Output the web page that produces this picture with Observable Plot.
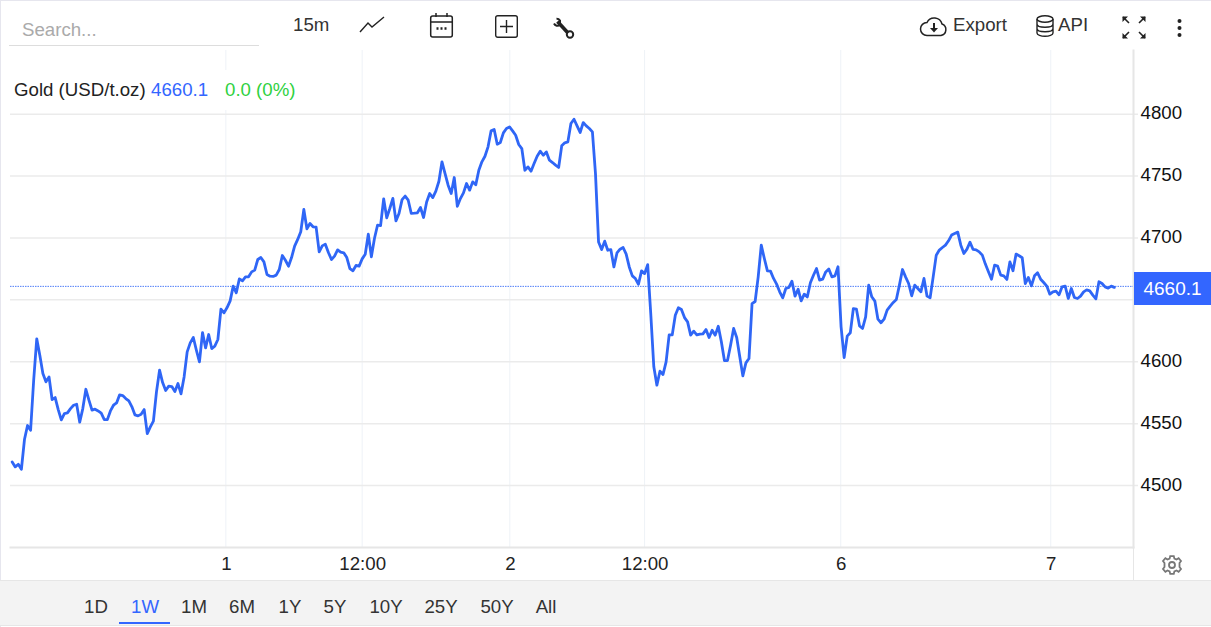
<!DOCTYPE html>
<html>
<head>
<meta charset="utf-8">
<script src="https://cdn.jsdelivr.net/npm/d3@7"></script>
<script src="https://cdn.jsdelivr.net/npm/@observablehq/plot@0.6"></script>
<style>
  html,body{margin:0;padding:0;background:#fff;}
  body{width:1211px;height:627px;overflow:hidden;position:relative;font-family:"Liberation Sans",Arial,sans-serif;font-size:18.67px;color:#333;}
  .t{position:absolute;line-height:22px;white-space:nowrap;}
  .c{transform:translateX(-50%);}
  svg.i{position:absolute;overflow:visible;fill:none;stroke:#222;}
  #bar{position:absolute;left:0;top:580px;width:1211px;height:44px;background:#f3f3f3;border-top:1px solid #e6e6e6;border-bottom:1px solid #e6e6e6;}
  #frameT{position:absolute;left:0;top:0;width:1211px;height:1px;background:#e6e6ee;}
  #frameL{position:absolute;left:0;top:0;width:1px;height:627px;background:#e6e6ee;}
  #chart{position:absolute;left:0;top:50px;}
  #legend{position:absolute;left:10px;top:70px;width:292px;height:40px;background:#fff;}
  #badge{position:absolute;left:1134px;width:77px;height:33px;line-height:33px;background:#3366ff;color:#fff;text-align:center;font-size:19px;}
</style>
</head>
<body>
<div id="chart"></div>
<div id="frameT"></div><div id="frameL"></div>
<div id="bar"></div>

<div class="t" style="left:22px;top:19px;color:#aaa">Search...</div>
<div style="position:absolute;left:9px;top:45px;width:250px;height:1px;background:#ddd"></div>
<div class="t" style="left:293px;top:14px;">15m</div>
<svg class="i" style="left:360px;top:16px" width="24" height="18" stroke-width="1.4"><path d="M0 16L8 7L12 11L24 1"/></svg>
<svg class="i" style="left:430px;top:13px" width="23" height="25" stroke-width="1.5"><rect x="0.7" y="3" width="21.6" height="21" rx="2"/><path d="M1 9H22M6 0V4M17 0V4"/><path d="M6.5 15.5H8.5M10.5 15.5H12.5M14.5 15.5H16.5" stroke-width="2.4"/></svg>
<svg class="i" style="left:495px;top:15px" width="23" height="23" stroke-width="1.4"><rect x="0.7" y="0.7" width="21.6" height="21.6" rx="2"/><path d="M11.5 5V18M5 11.5H18"/></svg>
<svg class="i" style="left:553px;top:18px" width="22" height="22"><path d="M4.5 3.5L15 15" stroke-width="3.6"/><path d="M1 5.5A4 4 0 0 0 7 7L7 2.5A4 4 0 0 0 3.5 0.8" stroke-width="2"/><circle cx="17" cy="16.5" r="3.2" stroke-width="2"/></svg>

<svg class="i" style="left:920px;top:17px" width="28" height="20" stroke-width="1.5"><path d="M7 18.5H21A6 6 0 0 0 22 7A8 8 0 0 0 7 5.5A6.5 6.5 0 0 0 7 18.5Z"/><path d="M14 6V13" stroke-width="2"/><path d="M10 11L14 15.5L18 11Z" style="fill:#222;stroke:none"/></svg>
<div class="t" style="left:953px;top:14px;">Export</div>
<svg class="i" style="left:1036px;top:15px" width="18" height="22" stroke-width="1.4"><ellipse cx="9" cy="4" rx="8" ry="3.2"/><path d="M1 4V18C1 20 5 21.3 9 21.3S17 20 17 18V4M1 9C1 11 5 12.2 9 12.2S17 11 17 9M1 13.5C1 15.5 5 16.7 9 16.7S17 15.5 17 13.5"/></svg>
<div class="t" style="left:1058px;top:14px;">API</div>
<svg class="i" style="left:1122px;top:16px" width="24" height="23" stroke-width="1.6"><path d="M1 1L7 7M23 1L17 7M1 22L7 16M23 22L17 16"/><path d="M0.5 0.5H6L0.5 6ZM23.5 0.5H18L23.5 6ZM0.5 22.5H6L0.5 17ZM23.5 22.5H18L23.5 17Z" style="fill:#222;stroke:none"/></svg>
<svg class="i" style="left:1176px;top:18px" width="8" height="20"><circle cx="3.5" cy="3" r="2" style="fill:#222;stroke:none"/><circle cx="3.5" cy="10" r="2" style="fill:#222;stroke:none"/><circle cx="3.5" cy="17" r="2" style="fill:#222;stroke:none"/></svg>

<div id="legend"></div>
<div class="t" style="left:14px;top:79px;color:#222">Gold (USD/t.oz)</div>
<div class="t" style="left:151px;top:79px;color:#3366ff">4660.1</div>
<div class="t" style="left:225px;top:79px;color:#2fd13f">0.0 (0%)</div>
<div id="badge">4660.1</div>

<svg class="i" style="left:1162px;top:555px;stroke:#777" width="20" height="20" stroke-width="1.8"><circle cx="10" cy="10" r="3"/><path d="M8.2 1.2H11.8L12.4 3.6L14.5 4.5L16.6 3.2L19 6L17.5 8L17.5 12L19 14L16.6 16.8L14.5 15.5L12.4 16.4L11.8 18.8H8.2L7.6 16.4L5.5 15.5L3.4 16.8L1 14L2.5 12L2.5 8L1 6L3.4 3.2L5.5 4.5L7.6 3.6Z"/></svg>
<div id="ranges"></div>

<script>
// Gold price (USD/t.oz), one reading per 15-minute sample, in order
const prices = [
4519.1,4515.1,4517.2,4513.2,4537.2,4548.5,4544.7,4585.1,4618.5,4605.3,
4590.5,4583.8,4587.8,4569.5,4571.1,4561.4,4553.1,4558.2,4558.7,4562.2,
4564.9,4565.7,4551.2,4562.2,4577.8,4569.0,4560.9,4561.7,4560.3,4558.5,
4553.3,4553.3,4560.3,4564.9,4566.8,4573.3,4572.7,4570.3,4568.4,4563.6,
4557.1,4556.3,4557.6,4561.4,4542.0,4547.4,4552.0,4575.7,4593.2,4583.2,
4576.8,4580.3,4580.0,4575.9,4582.4,4574.1,4587.8,4608.0,4615.3,4619.6,
4609.3,4599.9,4623.6,4611.2,4622.0,4610.7,4612.6,4618.0,4642.5,4639.5,
4643.8,4649.2,4661.1,4655.7,4667.0,4665.4,4668.6,4668.6,4672.6,4674.0,
4682.6,4684.2,4680.7,4670.5,4669.1,4668.9,4670.0,4674.5,4685.8,4682.0,
4677.2,4684.2,4693.4,4698.8,4705.0,4723.0,4707.4,4711.7,4709.0,4708.7,
4688.8,4693.6,4695.0,4688.3,4682.6,4685.3,4690.4,4688.5,4688.0,4684.2,
4675.3,4673.5,4677.8,4677.2,4683.1,4686.9,4703.0,4684.8,4699.6,4710.3,
4710.0,4731.6,4716.3,4723.8,4731.9,4713.8,4719.8,4731.0,4733.8,4730.5,
4719.8,4720.0,4720.3,4724.6,4716.5,4729.1,4735.9,4732.6,4737.8,4745.8,
4761.5,4752.0,4742.6,4735.9,4748.8,4725.6,4731.8,4736.4,4744.0,4738.6,
4745.3,4742.9,4754.7,4761.5,4766.0,4773.6,4786.5,4787.6,4775.7,4777.1,
4784.9,4788.4,4789.7,4786.5,4783.0,4775.5,4772.2,4754.7,4757.4,4753.9,
4760.1,4766.0,4770.1,4766.8,4769.5,4762.8,4760.9,4758.8,4756.9,4774.4,
4776.8,4777.6,4792.4,4795.9,4790.5,4785.2,4793.2,4790.5,4788.4,4785.7,
4752.0,4696.8,4690.6,4697.4,4690.1,4690.6,4676.6,4687.9,4690.9,4692.3,
4686.9,4676.6,4669.4,4667.2,4662.6,4673.4,4671.2,4678.5,4639.0,4595.9,
4581.1,4592.4,4589.7,4599.9,4621.7,4621.7,4637.6,4643.6,4642.2,4635.7,
4632.2,4621.5,4624.7,4621.7,4622.3,4622.5,4626.0,4619.6,4625.5,4621.5,
4628.7,4616.1,4601.0,4601.0,4613.4,4626.9,4619.6,4604.0,4588.6,4599.1,
4602.6,4647.0,4648.7,4668.6,4694.2,4683.4,4673.4,4673.2,4667.3,4662.7,
4656.5,4651.6,4659.2,4660.0,4665.1,4653.0,4658.6,4649.2,4654.6,4652.4,
4663.8,4669.9,4675.3,4665.9,4666.7,4672.6,4675.0,4668.6,4669.4,4676.7,
4628.2,4603.4,4620.7,4623.4,4643.0,4642.5,4629.0,4626.9,4636.3,4661.9,
4652.5,4649.0,4634.4,4631.5,4634.4,4641.7,4644.9,4647.9,4650.3,4661.9,
4674.5,4668.6,4663.2,4653.3,4661.9,4659.2,4656.5,4667.3,4653.0,4651.6,
4668.6,4686.1,4690.2,4692.3,4694.2,4697.7,4702.3,4703.6,4704.7,4694.2,
4687.5,4691.0,4696.6,4690.7,4690.4,4688.8,4686.1,4678.9,4672.7,4666.7,
4678.0,4677.2,4670.0,4669.4,4666.5,4680.7,4673.5,4687.0,4685.6,4684.0,
4663.2,4668.1,4661.3,4669.4,4671.9,4666.7,4664.0,4661.1,4654.6,4656.5,
4657.0,4654.1,4660.5,4661.1,4651.1,4659.2,4651.9,4651.1,4653.0,4656.5,
4658.1,4657.3,4653.8,4650.8,4664.6,4663.2,4660.5,4659.5,4661.1,4660.1
];
const lastPrice = 4660.1;
const gridPrices = [4500,4550,4600,4650,4700,4750,4800];
const labelPrices = [4500,4550,4600,4700,4750,4800];  // 4650 sits under the price badge
const timeTicks = [69.6,114,162.1,206,269.9,338.3];   // sample number of each label
const timeLabels = ["1","12:00","2","12:00","6","7"];
const rangeNames = ["1D","1W","1M","6M","1Y","5Y","10Y","25Y","50Y","All"];
const rangeCenters = [96,145,194,242,290,335,386,441,497,546];
const activeRange = "1W";

const blue = "#2f66f6";
const gridColor = "#ebebeb";
const vGrid = "#eef2f7";
const axisColor = "#e6e6e6";

const rows = prices.map((price, sample) => ({sample, price}));
const labelOf = new Map(timeTicks.map((t, i) => [t, timeLabels[i]]));

const chart = Plot.plot({
  width: 1211,
  height: 530,
  marginLeft: 10,
  marginRight: 78,
  marginTop: 0,
  marginBottom: 33,
  style: {fontFamily: '"Liberation Sans",Arial,sans-serif', fontSize: "18.67px", background: "transparent", overflow: "visible"},
  x: {domain: [-0.55, 365.25]},
  y: {domain: [4450, 4851.4]},
  marks: [
    Plot.gridX(timeTicks, {stroke: vGrid, strokeOpacity: 1, strokeWidth: 1}),
    Plot.ruleY(gridPrices, {stroke: gridColor, strokeWidth: 1.5, insetRight: -5}),
    Plot.frame({anchor: "right", stroke: axisColor, strokeWidth: 2}),
    Plot.frame({anchor: "bottom", stroke: axisColor, strokeWidth: 2}),
    Plot.axisY(labelPrices, {anchor: "right", tickSize: 0, tickPadding: 7, fill: "#111", label: null, tickFormat: d => String(d), dy: -1}),
    Plot.axisX(timeTicks, {anchor: "bottom", tickSize: 0, tickPadding: 8, fill: "#222", label: null, tickFormat: d => labelOf.get(d), dx: 0.5, dy: 1}),
    Plot.ruleY([lastPrice], {stroke: "#4f7ef8", strokeWidth: 1, strokeDasharray: "1.5,1", dy: -1}),
    Plot.line(rows, {x: "sample", y: "price", stroke: blue, strokeWidth: 2.8, curve: "linear"})
  ]
});
document.getElementById("chart").appendChild(chart);

// the last-price badge follows the y scale
document.getElementById("badge").style.top = (50 + chart.scale("y").apply(lastPrice) - 14.5) + "px";

// bottom vertical divider under the y axis
const div = document.createElement("div");
div.style.cssText = "position:absolute;left:1133px;top:548px;width:1px;height:32px;background:#e6e6e6";
document.body.appendChild(div);

// range selector
const host = document.getElementById("ranges");
rangeNames.forEach((name, i) => {
  const el = document.createElement("div");
  el.className = "t c";
  el.textContent = name;
  el.style.left = rangeCenters[i] + "px";
  el.style.top = "596px";
  el.style.color = name === activeRange ? "#3366ff" : "#333";
  host.appendChild(el);
  if (name === activeRange) {
    const u = document.createElement("div");
    u.style.cssText = `position:absolute;left:${rangeCenters[i]-26}px;top:622px;width:51px;height:2px;background:#3366ff`;
    host.appendChild(u);
  }
});
</script>
</body>
</html>
